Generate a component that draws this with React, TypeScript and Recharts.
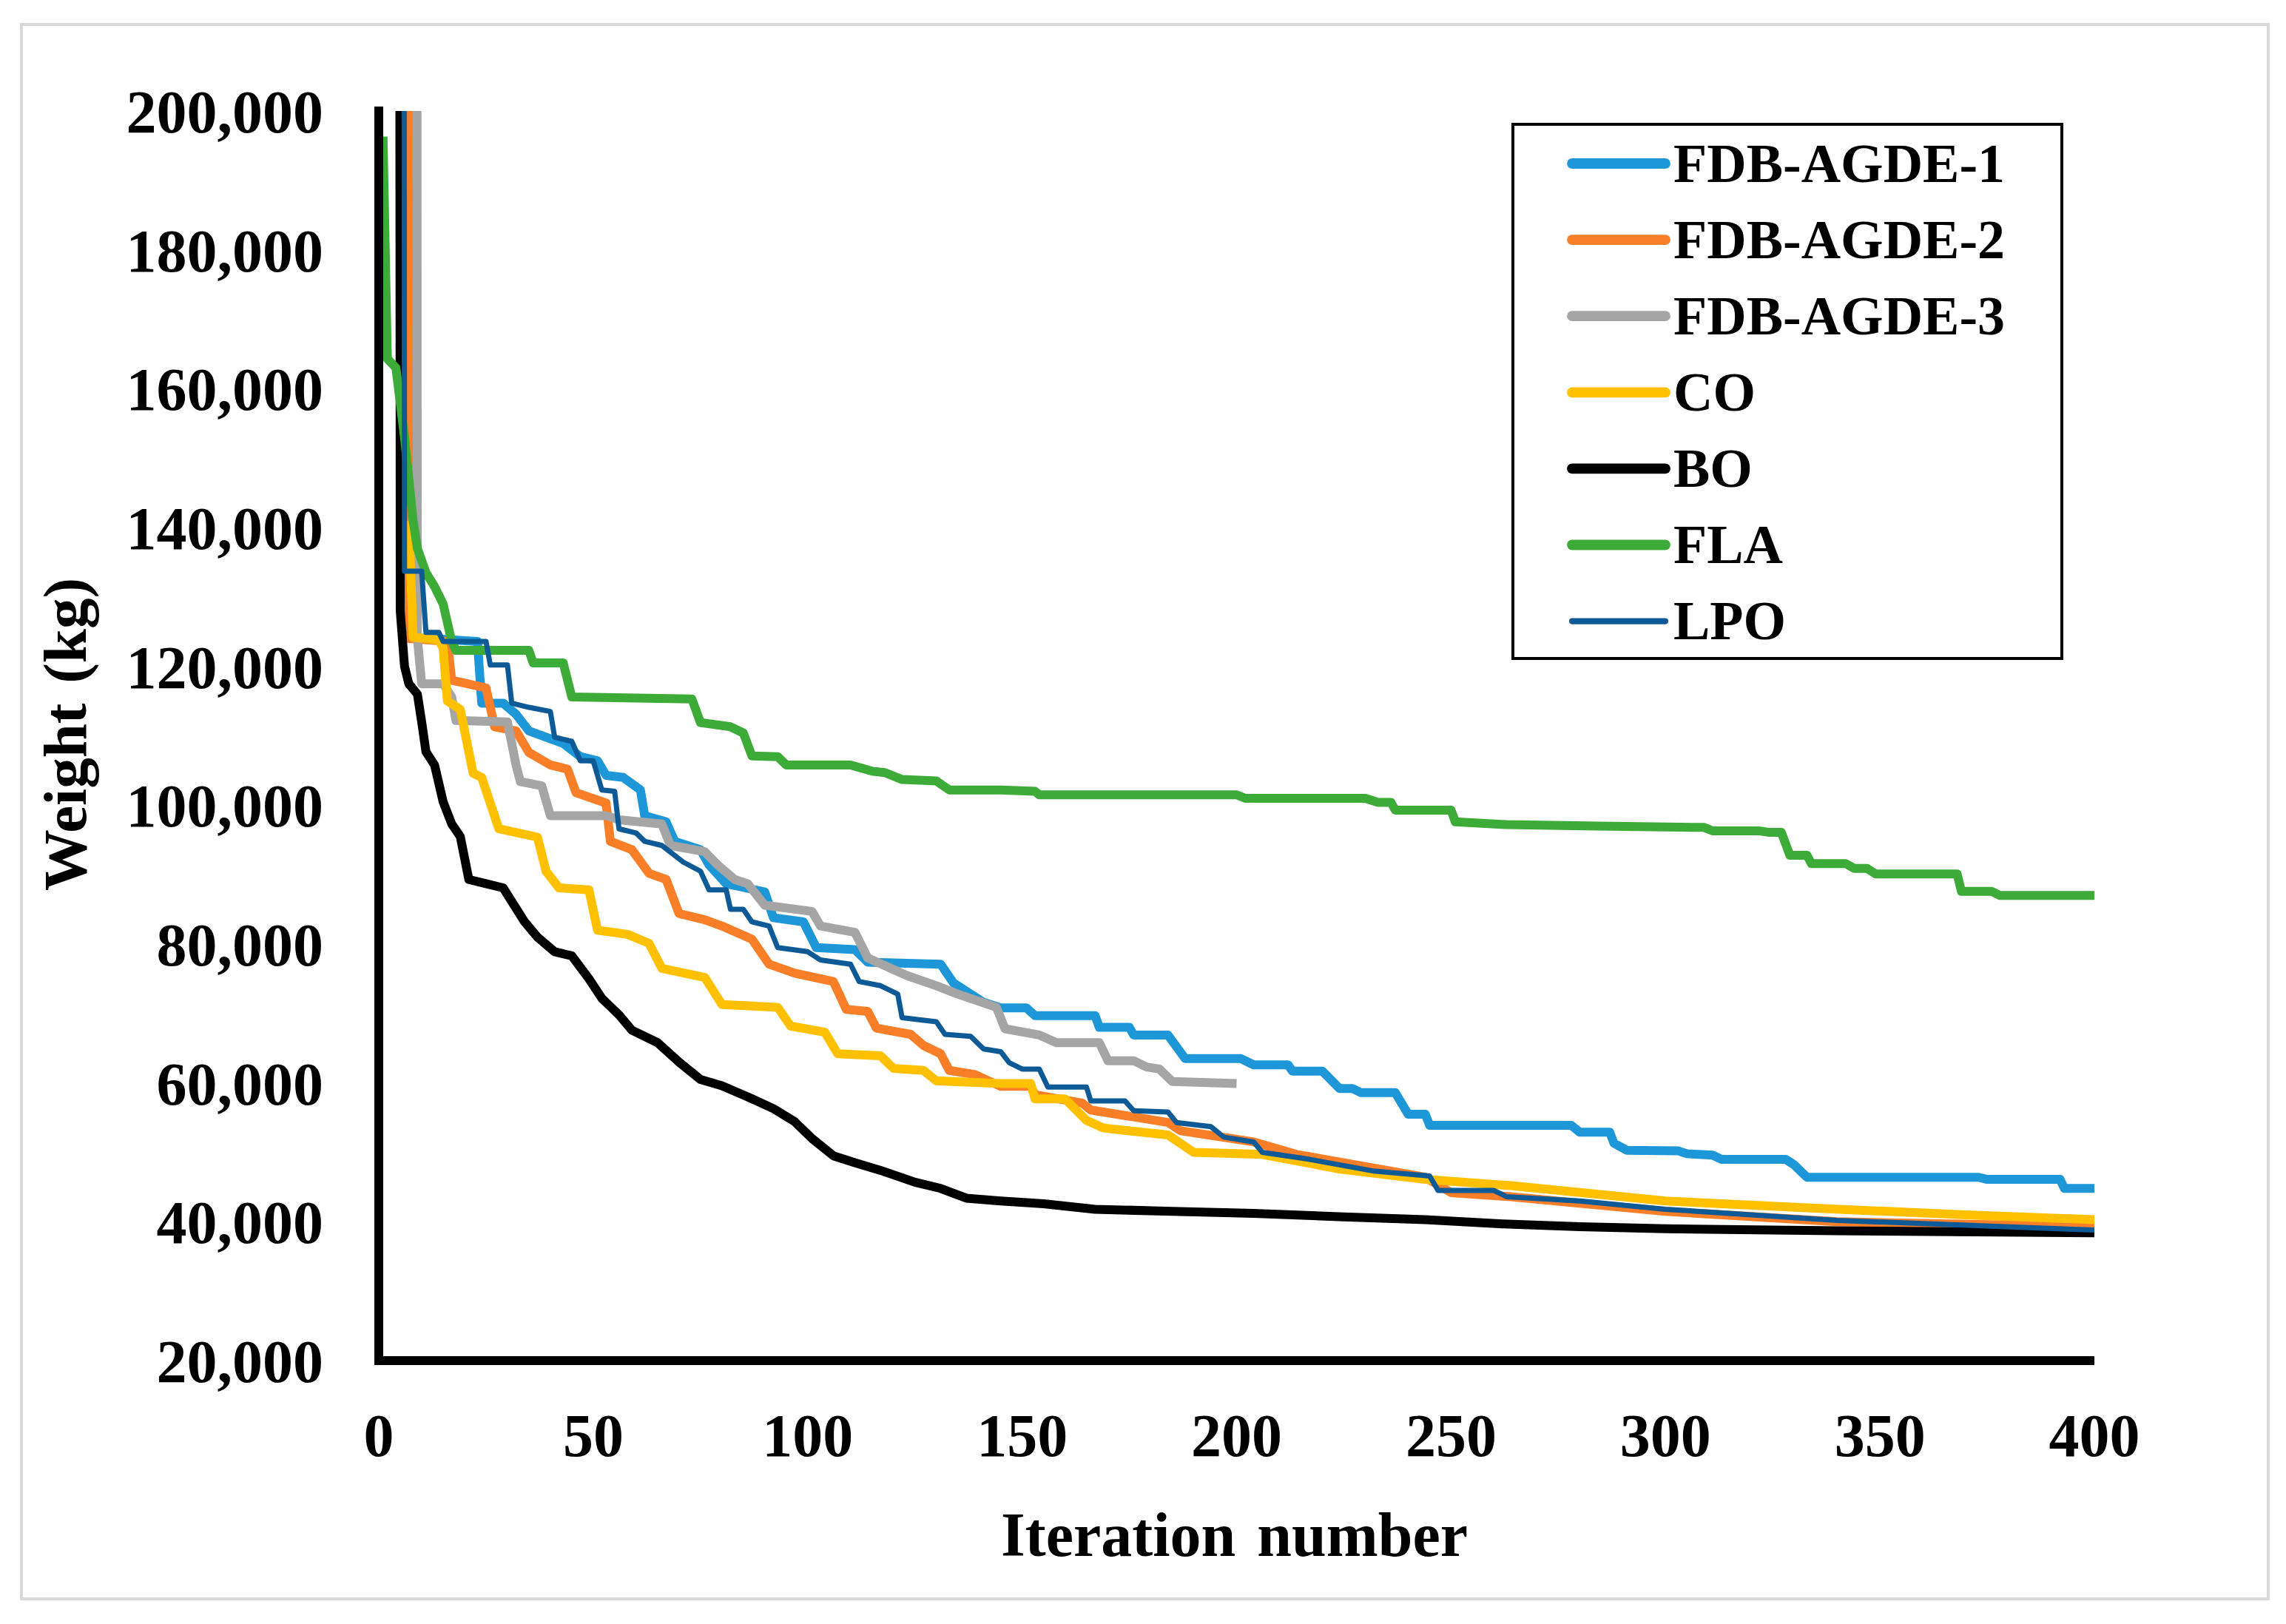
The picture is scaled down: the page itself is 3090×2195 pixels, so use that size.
import React from 'react';
import { LineChart, Line, XAxis, YAxis, Legend, Label } from 'recharts';

// ---------- data (iteration, weight in kg); 1,000,000 = off the top of the scale ----------
const ITER_TICKS = [0, 50, 100, 150, 200, 250, 300, 350, 400];
const WEIGHT_TICKS = [20000, 40000, 60000, 80000, 100000, 120000, 140000, 160000, 180000, 200000];

const FDB_AGDE_1: [number, number][] = [
  [6, 1000000], [7, 124200], [23, 123600], [24, 114700], [29, 114700], [32, 113100], [35, 110700],
  [39, 109800], [43, 108900], [47, 107000], [51, 106400], [53, 104300], [57, 104000], [61, 102200],
  [62, 98500], [67, 97600], [69, 94800], [75, 93600], [77, 91400], [81, 88700], [90, 87500],
  [92, 83800], [99, 83200], [102, 79500], [111, 79200], [114, 77400], [131, 77100], [134, 74400],
  [141, 71600], [145, 70800], [151, 70800], [153, 69700], [167, 69700], [168, 68000], [175, 68000],
  [176, 66900], [184, 66900], [188, 63500], [201, 63500], [204, 62600], [212, 62600], [213, 61700],
  [220, 61700], [224, 59200], [227, 59200], [229, 58600], [237, 58600], [240, 55500], [244, 55500],
  [245, 53900], [278, 53900], [280, 52900], [287, 52900], [288, 51300], [291, 50300], [303, 50200],
  [305, 49800], [311, 49600], [313, 49000], [328, 49000], [330, 48200], [333, 46400], [373, 46400],
  [375, 46100], [392, 46100], [393, 44800], [400, 44800],
];

const FDB_AGDE_2: [number, number][] = [
  [6, 1000000], [7, 124000], [16, 123600], [17, 118000], [25, 116900], [27, 111300], [32, 110700],
  [35, 107600], [40, 105800], [44, 105200], [46, 101800], [53, 100300], [54, 94800], [59, 93600],
  [63, 90200], [67, 89300], [70, 84400], [76, 83500], [80, 82600], [87, 80700], [91, 77100],
  [97, 75800], [106, 74600], [109, 70600], [114, 70300], [116, 67900], [124, 67000], [127, 65400],
  [131, 64200], [133, 61800], [139, 61200], [145, 59500], [152, 59500], [153, 58300], [164, 57100],
  [166, 56100], [184, 54300], [187, 53100], [204, 51500], [214, 49700], [244, 46400], [250, 44200],
  [264, 43600], [300, 41500], [340, 40000], [400, 39300],
];

const FDB_AGDE_3: [number, number][] = [
  [8, 1000000], [9, 124000], [10, 117500], [15, 117500], [17, 115600], [18, 112200], [30, 112000],
  [32, 105800], [33, 103400], [38, 102800], [40, 98500], [53, 98500], [56, 97900], [66, 97300],
  [68, 94200], [76, 93300], [79, 91400], [83, 89300], [86, 88700], [90, 85600], [101, 84700],
  [103, 82600], [111, 81700], [114, 78000], [123, 75500], [130, 74000], [135, 72800], [144, 70900],
  [146, 67800], [154, 66900], [158, 65800], [168, 65800], [170, 63200], [176, 63200], [179, 62300],
  [182, 62000], [185, 60200], [200, 59900],
];

const CO: [number, number][] = [
  [7, 141000], [8, 124200], [14, 123800], [15, 122600], [16, 115000], [19, 113800],
  [22, 104600], [24, 104000], [28, 96600], [37, 95400], [39, 90500], [42, 88100], [49, 87800],
  [51, 82000], [58, 81400], [63, 80100], [66, 76500], [76, 75200], [80, 71300], [93, 70900],
  [96, 68200], [104, 67300], [107, 64200], [117, 63900], [120, 62100], [127, 61800], [130, 60300],
  [145, 59900], [152, 59900], [153, 57700], [160, 57700], [165, 54600], [169, 53500], [184, 52500],
  [190, 50000], [206, 49700], [224, 47600], [244, 46100], [264, 45200], [300, 43000], [333, 42000],
  [370, 41000], [400, 40300],
];

const BO: [number, number][] = [
  [4, 1000000], [5, 128000], [6, 120000], [7, 117500], [9, 116000], [10, 112000], [11, 107700],
  [13, 105800], [15, 100500], [17, 97300], [19, 95500], [21, 89300], [25, 88700], [29, 88100],
  [34, 83200], [37, 81000], [41, 78900], [45, 78300], [49, 75000], [52, 72200], [56, 69800],
  [59, 67600], [65, 65800], [70, 63000], [75, 60500], [80, 59600], [86, 58000], [92, 56300],
  [97, 54400], [101, 52000], [106, 49500], [111, 48500], [117, 47400], [125, 45700], [131, 44800],
  [137, 43400], [145, 43000], [155, 42600], [167, 41800], [185, 41500], [204, 41200], [225, 40700],
  [244, 40300], [262, 39700], [280, 39300], [300, 39000], [340, 38700], [400, 38400],
];

const FLA: [number, number][] = [
  [1, 196300], [2, 164300], [4, 163000], [6, 153000], [8, 141000], [9, 137000], [11, 133500],
  [13, 131500], [15, 129000], [17, 123600], [18, 122300], [35, 122300], [36, 120500], [43, 120500],
  [45, 115600], [73, 115300], [75, 111900], [82, 111300], [85, 110400], [87, 107100], [93, 107000],
  [95, 105800], [110, 105800], [115, 104900], [118, 104700], [122, 103700], [130, 103500],
  [133, 102200], [145, 102200], [153, 102000], [154, 101500], [200, 101500], [202, 101000],
  [230, 101000], [233, 100400], [236, 100400], [237, 99300], [250, 99300], [251, 97600],
  [263, 97200], [284, 97000], [309, 96800], [311, 96300], [322, 96300], [324, 96100], [327, 96100],
  [329, 92800], [333, 92800], [334, 91600], [342, 91600], [344, 90900], [347, 90900], [349, 90100],
  [368, 90100], [369, 87600], [376, 87600], [378, 87000], [400, 87000],
];

const LPO: [number, number][] = [
  [5, 1000000], [6, 133700], [10, 133700], [11, 124900], [14, 124900], [15, 123600], [25, 123600],
  [26, 120200], [30, 120200], [31, 114700], [35, 114100], [40, 113500], [41, 109800], [45, 109200],
  [47, 106400], [50, 106400], [52, 102200], [55, 102000], [56, 96600], [60, 96000], [62, 94800],
  [66, 94200], [71, 91800], [75, 90500], [77, 87800], [81, 87800], [82, 85000], [85, 85000],
  [87, 83200], [91, 82600], [93, 79500], [100, 78900], [103, 77700], [110, 77100], [112, 74600],
  [117, 74000], [121, 72800], [122, 69400], [130, 68800], [132, 67000], [138, 66700], [141, 64900],
  [145, 64500], [147, 62900], [150, 62000], [154, 62000], [156, 59400], [165, 59400], [166, 57400],
  [174, 57400], [176, 56000], [184, 55800], [186, 54300], [194, 53700], [197, 52200], [204, 51500],
  [206, 50000], [216, 49100], [224, 48200], [232, 47300], [245, 46600], [247, 44500], [260, 44500],
  [263, 43600], [280, 43000], [300, 41800], [340, 40200], [400, 38800],
];

const SERIES_NAMES = ['FDB-AGDE-1', 'FDB-AGDE-2', 'FDB-AGDE-3', 'CO', 'BO', 'FLA', 'LPO'];
const SERIES_VALUES = [FDB_AGDE_1, FDB_AGDE_2, FDB_AGDE_3, CO, BO, FLA, LPO];
const SERIES_COLORS = ['#1E97D9', '#F97E28', '#A5A5A5', '#FFC000', '#000000', '#3DAB38', '#0E5A97'];
const SERIES_WIDTHS = [12, 12, 12, 12, 12, 12, 7];

// ---------- styling ----------
const FONT = "'Liberation Serif', 'Times New Roman', serif";
const W = 3090;
const H = 2195;

const toPoints = (arr: [number, number][]) => arr.map(([x, y]) => ({ x, y }));

const LegendBox = (props: any) => {
  const raw = props.payload || [];
  const payload = [...raw].sort(
    (a: any, b: any) => SERIES_NAMES.indexOf(a.value) - SERIES_NAMES.indexOf(b.value)
  );
  return (
    <svg width={746} height={726} style={{ display: 'block' }}>
      <rect x={2} y={2} width={742} height={722} fill="#FFFFFF" stroke="#000000" strokeWidth={4} />
      {payload.map((entry: any, i: number) => {
        const cy = 55 + i * 103.1;
        const idx = SERIES_NAMES.indexOf(entry.value);
        const sw = idx >= 0 ? SERIES_WIDTHS[idx] : 12;
        return (
          <g key={i}>
            <line x1={82} x2={208} y1={cy} y2={cy} stroke={entry.color} strokeWidth={sw * 1.15} strokeLinecap="round" />
            <text x={219} y={cy + 24.5} fontFamily={FONT} fontWeight="bold" fontSize={74} fill="#000">
              {entry.value}
            </text>
          </g>
        );
      })}
    </svg>
  );
};

const XTitle = (props: any) => {
  const vb = props.viewBox || { x: 512, y: 1839, width: 2319 };
  return (
    <text
      x={vb.x + vb.width / 2 - 3}
      y={vb.y + 264}
      textAnchor="middle"
      fontFamily={FONT}
      fontWeight="bold"
      fontSize={84}
      wordSpacing={8}
      fill="#000"
    >
      Iteration number
    </text>
  );
};

const YTitle = (props: any) => {
  const vb = props.viewBox || { x: 212, y: 150, width: 300, height: 1689 };
  const cx = vb.x + vb.width - 396;
  const cy = vb.y + vb.height / 2 - 2;
  return (
    <text
      x={cx}
      y={cy}
      transform={`rotate(-90, ${cx}, ${cy})`}
      textAnchor="middle"
      fontFamily={FONT}
      fontWeight="bold"
      fontSize={83}
      wordSpacing={6}
      fill="#000"
    >
      Weight (kg)
    </text>
  );
};

export default function App() {
  return (
    <div style={{ position: 'absolute', left: 0, top: 0, width: W, height: H, background: '#FFFFFF' }}>
      <div
        style={{
          position: 'absolute',
          left: 27,
          top: 31,
          width: 3033,
          height: 2124,
          border: '4px solid #D9D9D9',
        }}
      />
      <div style={{ position: 'absolute', left: 0, top: 0 }}>
        <LineChart width={W} height={H} margin={{ top: 150, right: 259, bottom: 56, left: 212 }}>
          <XAxis
            dataKey="x"
            type="number"
            domain={[0, 400]}
            ticks={ITER_TICKS}
            interval={0}
            allowDataOverflow
            height={300}
            tickLine={false}
            tickSize={0}
            tickMargin={71}
            axisLine={{ stroke: '#000000', strokeWidth: 12 }}
            tick={{ fontFamily: FONT, fontWeight: 'bold', fontSize: 82, fill: '#000000' }}
          >
            <Label content={XTitle} />
          </XAxis>
          <YAxis
            type="number"
            domain={[20000, 200000]}
            ticks={WEIGHT_TICKS}
            interval={0}
            allowDataOverflow
            width={300}
            tickLine={false}
            tickSize={0}
            tickMargin={75}
            axisLine={{ stroke: '#000000', strokeWidth: 12, strokeLinecap: 'square' }}
            tickFormatter={(v: number) => v.toLocaleString('en-US')}
            tick={{ fontFamily: FONT, fontWeight: 'bold', fontSize: 82, fill: '#000000' }}
          >
            <Label content={YTitle} />
          </YAxis>
          <Legend
            layout="vertical"
            align="center"
            verticalAlign="middle"
            itemSorter={(item: any) => SERIES_NAMES.indexOf(item.value)}
            content={LegendBox}
            wrapperStyle={{ left: 2043, top: 166, width: 746, height: 726 }}
          />
          {SERIES_NAMES.map((name, i) => (
            <Line
              key={name}
              name={name}
              data={toPoints(SERIES_VALUES[i])}
              dataKey="y"
              type="linear"
              stroke={SERIES_COLORS[i]}
              strokeWidth={SERIES_WIDTHS[i]}
              strokeLinejoin="round"
              dot={false}
              activeDot={false}
              isAnimationActive={false}
              legendType="line"
            />
          ))}
        </LineChart>
      </div>
    </div>
  );
}
